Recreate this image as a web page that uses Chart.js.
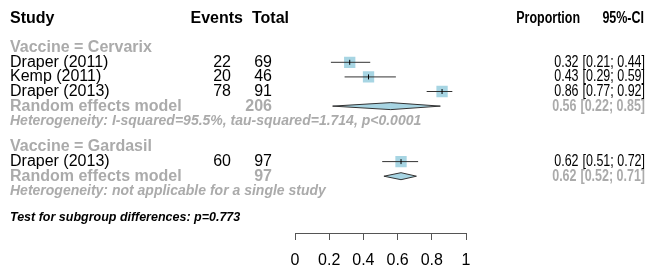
<!DOCTYPE html>
<html>
<head>
<meta charset="utf-8">
<script src="https://cdn.jsdelivr.net/npm/chart.js@4.4.0/dist/chart.umd.min.js"></script>
<style>
  html, body { margin: 0; padding: 0; background: #fff; }
  #wrap { width: 647px; height: 268px; }
</style>
</head>
<body>
<div id="wrap"><canvas id="forest"></canvas></div>
<script>
// study level data
const studies = ['Draper (2011)', 'Kemp (2011)', 'Draper (2013)', 'Draper (2013)'];
const studyGroup = [0, 0, 0, 1];
const events = [22, 20, 78, 60];
const totals = [69, 46, 91, 97];
const props = [0.32, 0.43, 0.86, 0.62];
const lower = [0.21, 0.29, 0.77, 0.51];
const upper = [0.44, 0.59, 0.92, 0.72];

// subgroups (random effects model)
const groups = ['Vaccine = Cervarix', 'Vaccine = Gardasil'];
const groupTotals = [206, 97];
const reEst = [0.56, 0.62];
const reLower = [0.22, 0.52];
const reUpper = [0.85, 0.71];
const hetText = [
    'Heterogeneity: I-squared=95.5%, tau-squared=1.714, p<0.0001',
    'Heterogeneity: not applicable for a single study'
];
const testText = 'Test for subgroup differences: p=0.773';

const axisTicks = [0, 0.2, 0.4, 0.6, 0.8, 1];
const axisLabels = ['0', '0.2', '0.4', '0.6', '0.8', '1'];

// row layout (one row per line of the table, smaller gap between groups)
const studyRow = [];
const groupRow = [];
const reRow = [];
const hetRow = [];
let row = 2;
groups.forEach((g, gi) => {
    groupRow.push(row++);
    studies.forEach((s, i) => {
        if (studyGroup[i] === gi) studyRow[i] = row++;
    });
    reRow.push(row++);
    hetRow.push(row);
    row += 1.8;
});
const testRow = row;

const FONT = '"Liberation Sans", Arial, sans-serif';
const GREY = '#ababab';
const BLUE = '#a7d5e3';
const SQ = 0.78; // the right hand columns are a bit narrower

const fmt = v => v.toFixed(2);

// draws a text and returns its drawn width
const put = (ctx, text, x, y, align, font, color, sx = 1) => {
    ctx.save();
    ctx.font = font;
    ctx.fillStyle = color;
    ctx.textAlign = align;
    ctx.textBaseline = 'middle';
    ctx.translate(x, y);
    ctx.scale(sx, 1);
    ctx.fillText(text, 0, 0);
    const w = ctx.measureText(text).width * sx;
    ctx.restore();
    return w;
};

// estimate + CI, right aligned at the right border
const estCell = (ctx, est, lo, hi, y, font, color) => {
    const w = put(ctx, '[' + fmt(lo) + '; ' + fmt(hi) + ']', 645, y, 'right', font, color, SQ);
    put(ctx, fmt(est), 645 - w - 4, y, 'right', font, color, SQ);
};

const tablePlugin = {
    id: 'table',
    afterDraw(chart) {
        const ctx = chart.ctx;
        const ys = chart.scales.y;
        const py = r => ys.getPixelForValue(r);
        const norm = '16px ' + FONT;
        const bold = 'bold 16px ' + FONT;
        const het = 'italic bold 14px ' + FONT;

        // header
        const hy = py(0);
        put(ctx, 'Study', 10, hy, 'left', bold, '#000');
        put(ctx, 'Events', 243, hy, 'right', bold, '#000');
        put(ctx, 'Total', 289, hy, 'right', bold, '#000');
        put(ctx, 'Proportion', 580, hy, 'right', bold, '#000', SQ);
        put(ctx, '95%-CI', 644, hy, 'right', bold, '#000', SQ);

        studies.forEach((s, i) => {
            const y = py(studyRow[i]);
            put(ctx, s, 10, y, 'left', norm, '#000');
            put(ctx, String(events[i]), 231, y, 'right', norm, '#000');
            put(ctx, String(totals[i]), 272, y, 'right', norm, '#000');
            estCell(ctx, props[i], lower[i], upper[i], y, norm, '#000');
        });

        groups.forEach((g, gi) => {
            put(ctx, g, 10, py(groupRow[gi]), 'left', bold, GREY);
            const y = py(reRow[gi]);
            put(ctx, 'Random effects model', 10, y, 'left', bold, GREY);
            put(ctx, String(groupTotals[gi]), 272, y, 'right', bold, GREY);
            estCell(ctx, reEst[gi], reLower[gi], reUpper[gi], y, bold, GREY);
            put(ctx, hetText[gi], 10, py(hetRow[gi]), 'left', het, GREY);
        });

        put(ctx, testText, 10, py(testRow), 'left', 'italic bold 12.5px ' + FONT, '#000');
    },
    afterDatasetsDraw(chart) {
        // pooled estimates as diamonds
        const ctx = chart.ctx;
        const xs = chart.scales.x;
        const ys = chart.scales.y;
        ctx.save();
        groups.forEach((g, gi) => {
            const y = ys.getPixelForValue(reRow[gi]);
            const h = 3.5;
            ctx.beginPath();
            ctx.moveTo(xs.getPixelForValue(reLower[gi]), y);
            ctx.lineTo(xs.getPixelForValue(reEst[gi]), y - h);
            ctx.lineTo(xs.getPixelForValue(reUpper[gi]), y);
            ctx.lineTo(xs.getPixelForValue(reEst[gi]), y + h);
            ctx.closePath();
            ctx.fillStyle = BLUE;
            ctx.fill();
            ctx.strokeStyle = '#333';
            ctx.lineWidth = 1;
            ctx.stroke();
        });
        ctx.restore();
    }
};

const ciLines = studies.map((s, i) => ({
    type: 'line',
    data: [{ x: lower[i], y: studyRow[i] }, { x: upper[i], y: studyRow[i] }],
    borderColor: '#333',
    borderWidth: 1,
    pointRadius: 0,
    order: 2
}));

const chart = new Chart(document.getElementById('forest'), {
    type: 'scatter',
    data: {
        datasets: [
            {
                data: props.map((p, i) => ({ x: p, y: studyRow[i] })),
                pointStyle: 'rect',
                pointRadius: 8,
                backgroundColor: BLUE,
                borderWidth: 0,
                order: 3
            },
            ...ciLines,
            {
                data: props.map((p, i) => ({ x: p, y: studyRow[i] })),
                pointStyle: 'line',
                rotation: 90,
                pointRadius: 2.5,
                borderColor: '#000',
                borderWidth: 1,
                order: 1
            }
        ]
    },
    options: {
        responsive: true,
        maintainAspectRatio: false,
        animation: false,
        layout: { padding: { left: 295, right: 181, top: 18.5, bottom: 0 } },
        plugins: { legend: { display: false }, tooltip: { enabled: false } },
        scales: {
            x: {
                type: 'linear',
                min: 0,
                max: 1,
                afterBuildTicks: s => { s.ticks = axisTicks.map(v => ({ value: v })); },
                afterFit: s => { s.height = 35; },
                ticks: {
                    callback: (v, i) => axisLabels[i],
                    font: { family: FONT, size: 16 },
                    color: '#000',
                    padding: 11,
                    maxRotation: 0
                },
                grid: { drawOnChartArea: false, tickLength: 7, color: '#555' },
                border: { color: '#555' }
            },
            y: {
                type: 'linear',
                reverse: true,
                min: 0,
                max: 14.69,
                display: false
            }
        }
    },
    plugins: [tablePlugin]
});
</script>
</body>
</html>
